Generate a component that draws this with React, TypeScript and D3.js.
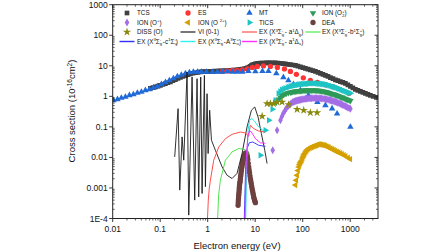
import React from 'react';
import * as d3 from 'd3';

const W = 448, H = 252;
const LEFT = 112.7, RIGHT = 378, TOP = 4.7, BOTTOM = 218.5;

const xTickValues = [0.01, 0.1, 1, 10, 100, 1000];
const xTickLabels = ['0.01', '0.1', '1', '10', '100', '1000'];
const yTickValues = [1e-4, 1e-3, 0.01, 0.1, 1, 10, 100, 1000];
const yTickLabels = ['1E-4', '0.001', '0.01', '0.1', '1', '10', '100', '1000'];

type P = [number, number];

const tcs: P[] = [
  [0.0622, 1.83], [0.0702, 1.93], [0.0792, 2.04], [0.0895, 2.16], [0.101, 2.29], [0.114, 2.44], [0.1287, 2.6],
  [0.145, 2.78], [0.164, 2.98], [0.185, 3.25], [0.209, 3.54], [0.236, 3.86], [0.266, 4.18], [0.3, 4.48],
  [0.339, 4.78], [0.383, 5.1], [0.432, 5.44], [0.49, 5.7], [0.551, 5.91], [0.623, 6.12], [0.702, 6.32],
  [0.79, 6.4], [0.895, 6.46], [1.01, 6.5], [1.14, 6.56], [1.29, 6.6], [1.45, 6.66], [1.64, 6.74],
  [1.85, 6.81], [2.09, 6.86], [2.36, 6.92], [2.66, 7.0], [3.01, 7.07], [3.4, 7.18], [3.83, 7.29],
  [4.32, 7.45], [4.88, 7.63], [5.4, 7.8], [5.93, 7.98], [6.4, 8.2], [6.85, 8.53], [7.4, 9.0],
  [7.92, 9.55], [8.3, 10.1], [8.73, 10.7], [9.4, 11.1], [10.1, 11.5], [10.9, 11.8], [11.7, 12.0],
  [12.9, 12.2], [14.2, 12.3], [15.6, 12.35], [17.2, 12.4], [19, 12.45], [20.9, 12.5], [23.6, 12.45],
  [26.6, 12.4], [30, 12.25], [33.9, 12.1], [38.3, 11.8], [43.2, 11.5], [48.8, 11.2], [55.1, 10.9],
  [62.2, 10.6], [70.2, 10.3], [79.2, 9.8], [89.4, 9.27], [101, 8.75], [114, 8.22], [129, 7.8],
  [145, 7.35], [164, 6.95], [185, 6.56], [209, 6.1], [236, 5.65], [267, 5.25], [301, 4.86], [340, 4.48],
  [383, 4.11], [433, 3.78], [488, 3.46], [551, 3.25], [622, 3.05], [702, 2.86], [792, 2.66], [895, 2.38],
  [1010, 2.12], [1140, 1.9], [1287, 1.69], [1453, 1.57], [1640, 1.46], [1851, 1.35], [2089, 1.25],
  [2358, 1.16], [2663, 1.08], [3050, 1.0], [3562, 0.93],
];

const es: P[] = [
  [2.04, 6.56], [2.6, 6.81], [3.31, 7.07], [4.22, 7.07], [5.38, 7.35], [6.85, 7.92], [8.73, 8.87],
  [11.1, 9.55], [14.9, 9.93], [20.9, 9.55], [29.3, 8.87], [41.2, 7.92], [55.1, 6.56], [73.6, 5.24],
  [103, 4.03], [145, 3.33], [204, 2.87], [301, 2.38], [443, 2.04], [952, 1.25],
];

const mt: P[] = [
  [0.0104, 0.74], [0.0126, 0.8], [0.0152, 0.89], [0.0185, 0.96], [0.0225, 1.08], [0.0273, 1.16],
  [0.0331, 1.3], [0.0402, 1.4], [0.0488, 1.57], [0.0593, 1.69], [0.0719, 1.9], [0.0873, 2.12],
  [0.106, 2.47], [0.129, 2.87], [0.156, 3.33], [0.19, 3.87], [0.23, 4.5], [0.279, 5.04], [0.34, 5.65],
  [0.412, 6.09], [0.5, 6.32], [0.607, 6.32], [0.737, 6.32], [0.939, 6.32], [1.26, 6.32], [1.6, 6.32],
  [2.04, 6.32], [2.6, 6.56], [3.31, 6.32], [4.22, 6.32], [5.38, 6.32], [7.19, 6.7], [10.1, 6.56],
  [14.2, 6.7], [19, 6.7], [27.9, 5.65], [39.2, 4.2], [50, 3.3], [64, 2.47], [89.4, 1.57], [132, 1.08],
  [204, 0.65], [301, 0.508], [416, 0.397], [530, 0.272], [1010, 0.099],
];

const ionO2p: P[] = [
  [27.9, 0.637], [31, 0.8], [34, 0.93], [36.5, 1.03], [39.2, 1.12], [42.2, 1.19], [45.4, 1.25], [50, 1.3],
  [55.1, 1.35], [58.5, 1.38], [62, 1.41], [66, 1.44], [70.2, 1.46], [74.5, 1.48], [79, 1.49], [84, 1.5],
  [89.4, 1.51], [95, 1.53], [101, 1.55], [107, 1.56], [114, 1.57], [121, 1.57], [128, 1.57], [136, 1.57],
  [145, 1.57], [154, 1.58], [164, 1.58], [174, 1.58], [185, 1.57], [197, 1.56], [209, 1.55], [222, 1.53],
  [236, 1.51], [251, 1.49], [267, 1.46], [284, 1.43], [301, 1.4], [320, 1.37], [340, 1.33], [361, 1.29],
  [383, 1.25], [407, 1.21], [433, 1.18], [460, 1.15], [488, 1.12], [518, 1.08], [551, 1.04], [585, 1.0],
  [622, 0.963], [660, 0.93], [700, 0.9], [745, 0.865], [792, 0.829], [840, 0.8], [890, 0.77], [950, 0.74],
  [1010, 0.713],
];

const ionOp: P[] = [
  [23.4, 0.0172], [28.9, 0.0774], [34, 0.164], [36.5, 0.22], [39.2, 0.278], [42.2, 0.34], [45.4, 0.405],
  [49, 0.47], [52.5, 0.527], [56.5, 0.585], [60.7, 0.637], [64, 0.66], [67, 0.68], [70.2, 0.7], [73.6, 0.713],
  [77, 0.73], [81, 0.745], [85, 0.757], [89.4, 0.769], [95, 0.785], [101, 0.8], [107, 0.815], [114, 0.829],
  [121, 0.84], [128, 0.85], [136, 0.855], [145, 0.86], [154, 0.865], [164, 0.87], [174, 0.872], [185, 0.873],
  [197, 0.872], [209, 0.87], [222, 0.865], [236, 0.86], [251, 0.85], [267, 0.84], [284, 0.825], [301, 0.81],
  [320, 0.795], [340, 0.78], [361, 0.76], [383, 0.74], [407, 0.72], [433, 0.7], [460, 0.68], [488, 0.661],
  [518, 0.64], [551, 0.615], [585, 0.59], [622, 0.569], [660, 0.545], [700, 0.52], [745, 0.495], [792, 0.471],
  [840, 0.45], [890, 0.43], [950, 0.41], [1010, 0.391],
];

const ionO2plus: P[] = [
  [70.2, 0.00124], [73, 0.0018], [76.2, 0.0026], [79.5, 0.0037], [82.8, 0.0049], [85.5, 0.0057], [88, 0.0066],
  [92, 0.0074], [95.9, 0.0081], [99.5, 0.0095], [103, 0.011], [106.5, 0.0122], [110, 0.0134], [115, 0.015],
  [120, 0.0165], [126, 0.018], [133, 0.0195], [141, 0.0205], [150, 0.0215], [160, 0.0225], [170, 0.0233],
  [181, 0.0242], [192, 0.025], [205, 0.026], [218, 0.0271], [233, 0.0265], [248, 0.026], [264, 0.0255],
  [280, 0.025], [298, 0.024], [316, 0.023], [336, 0.022], [356, 0.021], [388, 0.0197], [420, 0.0185],
  [452, 0.0174], [486, 0.0163], [527, 0.0154], [570, 0.0145], [620, 0.0136], [670, 0.0128], [733, 0.0119],
  [800, 0.011], [900, 0.0098], [1000, 0.0088],
];

const tics: P[] = [
  [12.9, 0.0118], [16.4, 0.0774], [19.4, 0.164], [23, 0.376], [26.6, 0.74], [30.8, 1.25], [33.5, 1.45],
  [36.5, 1.63], [39.5, 1.74], [43.2, 1.83], [48, 1.95], [51.5, 2.03], [55.1, 2.12], [58.5, 2.16], [62, 2.2],
  [66, 2.25], [70.2, 2.29], [74.5, 2.33], [79, 2.38], [84, 2.43], [89.4, 2.47], [95, 2.5], [101, 2.52],
  [107, 2.54], [114, 2.56], [121, 2.58], [128, 2.6], [136, 2.63], [145, 2.66], [154, 2.66], [164, 2.66],
  [174, 2.66], [185, 2.66], [197, 2.64], [209, 2.62], [222, 2.59], [236, 2.56], [251, 2.54], [267, 2.52],
  [284, 2.5], [301, 2.47], [320, 2.41], [340, 2.35], [361, 2.28], [383, 2.2], [407, 2.14], [433, 2.08],
  [460, 2.03], [488, 1.97], [518, 1.9], [551, 1.83], [585, 1.76], [622, 1.69], [660, 1.63], [700, 1.57],
  [745, 1.51], [792, 1.46], [840, 1.4], [890, 1.35], [950, 1.3], [1010, 1.25],
];

const dea: P[] = [
  [4.36, 0.00027], [4.39, 0.00033], [4.42, 0.0004], [4.46, 0.00048], [4.5, 0.00058], [4.54, 0.00068],
  [4.58, 0.0008], [4.62, 0.00095], [4.65, 0.0011], [4.7, 0.0013], [4.76, 0.0015], [4.82, 0.0017],
  [4.88, 0.002], [4.94, 0.0024], [5.0, 0.0028], [5.06, 0.0033], [5.12, 0.0038], [5.2, 0.0045],
  [5.3, 0.0052], [5.38, 0.0061], [5.46, 0.0071], [5.58, 0.0083], [5.7, 0.0095], [5.82, 0.0107],
  [5.93, 0.0118], [6.06, 0.0127], [6.2, 0.0135], [6.3, 0.0138], [6.42, 0.014], [6.58, 0.0132],
  [6.74, 0.0118], [6.87, 0.0101], [7.0, 0.0085], [7.15, 0.0064], [7.31, 0.0049], [7.45, 0.0039],
  [7.6, 0.0032], [7.76, 0.0025], [7.92, 0.002], [8.08, 0.0017], [8.25, 0.0014], [8.42, 0.00115],
  [8.59, 0.00096], [8.77, 0.00082], [8.95, 0.0007], [9.12, 0.0006], [9.3, 0.00051], [9.5, 0.00045],
  [9.7, 0.0004], [9.9, 0.00036], [10.1, 0.00033],
];

const dissO: P[] = [
  [14.0, 0.222], [17.8, 0.577], [20.9, 0.577], [24.5, 0.577], [28.9, 0.651], [36.8, 0.651], [50.7, 0.536],
  [76.2, 0.376], [105, 0.349], [145, 0.293], [201, 0.293],
];

const vi01: P[] = [
  [0.202, 0.0104], [0.238, 0.395], [0.258, 0.00085], [0.289, 0.047], [0.313, 0.0081], [0.368, 6.24],
  [0.399, 0.000129], [0.469, 4.28], [0.533, 0.0004], [0.597, 3.78], [0.647, 0.00051], [0.713, 4.28],
  [0.762, 0.00066], [0.852, 4.86], [0.895, 0.0011], [0.97, 1.22], [1.02, 0.0134], [1.1, 0.35],
  [1.2, 0.0365], [1.45, 0.0172], [2.01, 0.0049], [2.56, 0.0026], [3.26, 0.00204], [4.15, 0.003],
  [5.29, 0.0134], [6.74, 0.0998], [8.32, 0.35], [9.78, 0.448], [11.5, 0.211], [13.5, 0.06], [15.9, 0.0172],
  [17.8, 0.0063],
];

const exA1: P[] = [
  [0.99, 1e-4], [1.03, 0.0004], [1.08, 0.001], [1.14, 0.0018], [1.34, 0.0081], [1.71, 0.022], [2.36, 0.041],
  [3.26, 0.057], [4.88, 0.068], [6.2, 0.063], [7.3, 0.049], [7.6, 0.08], [7.9, 0.113], [9.3, 0.088],
  [11.8, 0.073], [15.9, 0.068],
];

const exB1: P[] = [
  [1.62, 1e-4], [1.7, 0.0006], [1.85, 0.0018], [2.36, 0.0081], [3.26, 0.0152], [4.5, 0.0195], [6.2, 0.018],
  [7.3, 0.0134], [7.6, 0.012],
];

const exC1: P[] = [
  [5.9, 1e-4], [6.3, 0.005], [6.8, 0.02], [7.5, 0.03], [8.9, 0.032], [11.8, 0.025], [16.4, 0.023],
];

const exA3: P[] = [
  [6.3, 1e-4], [6.7, 0.01], [7.1, 0.08], [7.6, 0.16], [8.4, 0.19], [9.5, 0.16], [11.8, 0.1], [14, 0.08],
  [16.4, 0.072],
];

const exM: P[] = [
  [6.1, 1e-4], [6.5, 0.01], [7.0, 0.05], [7.6, 0.075], [8.3, 0.068], [10.1, 0.041], [12.9, 0.03], [16.4, 0.029],
];

type Part = [string, 'n' | 'u' | 'd' | 'ud'];

const FONT = '"Liberation Sans", Arial, Helvetica, sans-serif';

function Rich({ x, y, parts, fs }: { x: number; y: number; parts: Part[]; fs: number }) {
  let cur = 0;
  const out: any[] = [];
  parts.forEach(([t, k], i) => {
    let target = 0;
    let size = fs;
    let dx = 0;
    if (k === 'u') { target = -fs * 0.4; size = fs * 0.68; }
    if (k === 'd') { target = fs * 0.25; size = fs * 0.68; }
    if (k === 'ud') { target = -fs * 0.4; size = fs * 0.68; dx = -fs * 0.38; }
    out.push(
      <tspan key={i} dy={target - cur} dx={dx} fontSize={size}>{t}</tspan>
    );
    cur = target;
  });
  return <text x={x} y={y} fontSize={fs} fill="#111" fontFamily={FONT}>{out}</text>;
}

export default function App() {
  const x = d3.scaleLog().domain([0.01, 3850]).range([LEFT, RIGHT]);
  const y = d3.scaleLog().domain([1e-4, 1000]).range([BOTTOM, TOP]);

  const sym = (type: any, size: number) => d3.symbol().type(type).size(size)() as string;
  const sq = sym(d3.symbolSquare, 22);
  const circ = sym(d3.symbolCircle, 22);
  const tri = sym(d3.symbolTriangle, 18);
  const dia = sym(d3.symbolDiamond, 18);
  const star = sym(d3.symbolStar, 22);

  const line = d3.line<P>().x(d => x(d[0])).y(d => y(d[1]));

  const scatter = (data: P[], path: string, color: string, rot = 0, key = '') =>
    data.map((d, i) => (
      <path key={key + i} d={path} fill={color}
        transform={`translate(${x(d[0])},${y(d[1])})${rot ? ` rotate(${rot})` : ''}`} />
    ));

  const C = {
    tcs: '#404040', es: '#f33', mt: '#1f6ad8', ionO2p: '#2e9a58', ionOp: '#a46ee6', ionO2plus: '#d4a000',
    tics: '#1ec4c4', dea: '#6e4040', diss: '#8a8a10', vi: '#1a1a1a', exA1: '#ff3a3a', exB1: '#3ee03e',
    exC1: '#2a2aff', exA3: '#10e0e0', exM: '#ff20ff',
  };

  const xMinor: number[] = [];
  for (let e = -2; e <= 3; e++) for (let k = 2; k <= 9; k++) { const v = k * Math.pow(10, e); if (v <= 3850) xMinor.push(v); }
  const yMinor: number[] = [];
  for (let e = -4; e <= 2; e++) for (let k = 2; k <= 9; k++) yMinor.push(k * Math.pow(10, e));

  const fsL = 6.3;
  const rows = [13, 22.5, 32, 41.5];
  const cols = [127, 188, 249.5, 313];
  const tx = [137, 198, 259, 322];

  const legend: { kind: 'm' | 'l'; col: number; row: number; path?: string; rot?: number; color: string; parts: Part[]; w?: number }[] = [
    { kind: 'm', col: 0, row: 0, path: sq, color: C.tcs, parts: [['TCS', 'n']] },
    { kind: 'm', col: 1, row: 0, path: circ, color: C.es, parts: [['ES', 'n']] },
    { kind: 'm', col: 2, row: 0, path: tri, color: C.mt, parts: [['MT', 'n']] },
    { kind: 'm', col: 3, row: 0, path: tri, rot: 180, color: C.ionO2p, parts: [['ION (O', 'n'], ['2', 'd'], ['+', 'ud'], [')', 'n']] },
    { kind: 'm', col: 0, row: 1, path: dia, color: C.ionOp, parts: [['ION (O', 'n'], ['+', 'u'], [')', 'n']] },
    { kind: 'm', col: 1, row: 1, path: tri, rot: -90, color: C.ionO2plus, parts: [['ION (O ', 'n'], ['2+', 'u'], [')', 'n']] },
    { kind: 'm', col: 2, row: 1, path: tri, rot: 90, color: C.tics, parts: [['TICS', 'n']] },
    { kind: 'm', col: 3, row: 1, path: circ, color: C.dea, parts: [['DEA', 'n']] },
    { kind: 'm', col: 0, row: 2, path: star, color: C.diss, parts: [['DISS (O)', 'n']] },
    { kind: 'l', col: 1, row: 2, color: '#555', w: 1.6, parts: [['VI (0-1)', 'n']] },
    { kind: 'l', col: 2, row: 2, color: '#ff6a6a', w: 1.4, parts: [['EX (X', 'n'], ['3', 'u'], ['Σ', 'n'], ['g', 'd'], ['-', 'ud'], [' - a', 'n'], ['1', 'u'], ['Δ', 'n'], ['g', 'd'], [')', 'n']] },
    { kind: 'l', col: 3, row: 2, color: '#66ee66', w: 1.4, parts: [['EX (X', 'n'], ['3', 'u'], ['Σ', 'n'], ['g', 'd'], ['-', 'ud'], [' -b', 'n'], ['1', 'u'], ['Σ', 'n'], ['g', 'd'], ['+', 'ud'], [')', 'n']] },
    { kind: 'l', col: 0, row: 3, color: '#3030ff', w: 1.4, parts: [['EX (X', 'n'], ['3', 'u'], ['Σ', 'n'], ['g', 'd'], ['-', 'ud'], [' -c', 'n'], ['1', 'u'], ['Σ', 'n'], ['u', 'd'], ['-', 'ud'], [')', 'n']] },
    { kind: 'l', col: 1, row: 3, color: '#30f0f0', w: 1.4, parts: [['EX (X', 'n'], ['3', 'u'], ['Σ', 'n'], ['g', 'd'], ['-', 'ud'], [' -A', 'n'], ['3', 'u'], ['Σ', 'n'], ['u', 'd'], ['+', 'ud'], [')', 'n']] },
    { kind: 'l', col: 2, row: 3, color: '#ff30ff', w: 1.4, parts: [['EX (X', 'n'], ['3', 'u'], ['Σ', 'n'], ['g', 'd'], ['-', 'ud'], [' - a', 'n'], ['1', 'u'], ['Δ', 'n'], ['u', 'd'], [')', 'n']] },
  ];

  return (
    <svg width={W} height={H} style={{ position: 'absolute', left: 0, top: 0, background: '#fff' }} fontFamily={FONT}>
      <defs>
        <clipPath id="plot">
          <rect x={LEFT} y={TOP} width={RIGHT - LEFT} height={BOTTOM - TOP} />
        </clipPath>
      </defs>
      <rect x={0} y={0} width={W} height={H} fill="#fff" />

      <g clipPath="url(#plot)">
        {scatter(tcs, sq, C.tcs, 0, 'tcs')}
        {scatter(es, circ, C.es, 0, 'es')}
        {scatter(mt, tri, C.mt, 0, 'mt')}
        {scatter(ionO2p, tri, C.ionO2p, 180, 'io2')}
        {scatter(ionOp, dia, C.ionOp, 0, 'iop')}
        {scatter(ionO2plus, tri, C.ionO2plus, -90, 'io2p')}
        {scatter(tics, tri, C.tics, 90, 'tics')}
        {scatter(dea, circ, C.dea, 0, 'dea')}
        {scatter(dissO, star, C.diss, 0, 'diss')}
        <path d={line(vi01) as string} fill="none" stroke={C.vi} strokeWidth={0.9} />
        <path d={line(exA1) as string} fill="none" stroke={C.exA1} strokeWidth={0.9} />
        <path d={line(exB1) as string} fill="none" stroke={C.exB1} strokeWidth={0.9} />
        <path d={line(exC1) as string} fill="none" stroke={C.exC1} strokeWidth={0.9} />
        <path d={line(exA3) as string} fill="none" stroke={C.exA3} strokeWidth={0.9} />
        <path d={line(exM) as string} fill="none" stroke={C.exM} strokeWidth={0.9} />
      </g>

      <rect x={LEFT} y={TOP} width={RIGHT - LEFT} height={BOTTOM - TOP} fill="none" stroke="#222" strokeWidth={1} />

      {xTickValues.map((v, i) => (
        <g key={'xt' + i}>
          <line x1={x(v)} x2={x(v)} y1={BOTTOM} y2={BOTTOM + 3.5} stroke="#222" strokeWidth={0.9} />
          <line x1={x(v)} x2={x(v)} y1={TOP} y2={TOP + 3.5} stroke="#222" strokeWidth={0.9} />
          <text x={x(v)} y={BOTTOM + 13} fontSize={8.5} textAnchor="middle" fill="#111">{xTickLabels[i]}</text>
        </g>
      ))}
      {xMinor.map((v, i) => (
        <g key={'xm' + i}>
          <line x1={x(v)} x2={x(v)} y1={BOTTOM} y2={BOTTOM + 2} stroke="#222" strokeWidth={0.7} />
          <line x1={x(v)} x2={x(v)} y1={TOP} y2={TOP + 2} stroke="#222" strokeWidth={0.7} />
        </g>
      ))}
      {yTickValues.map((v, i) => (
        <g key={'yt' + i}>
          <line x1={LEFT - 3.5} x2={LEFT} y1={y(v)} y2={y(v)} stroke="#222" strokeWidth={0.9} />
          <line x1={RIGHT - 3.5} x2={RIGHT} y1={y(v)} y2={y(v)} stroke="#222" strokeWidth={0.9} />
          <text x={LEFT - 5} y={y(v) + 3} fontSize={8.5} textAnchor="end" fill="#111">{yTickLabels[i]}</text>
        </g>
      ))}
      {yMinor.map((v, i) => (
        <g key={'ym' + i}>
          <line x1={LEFT} x2={LEFT + 2} y1={y(v)} y2={y(v)} stroke="#222" strokeWidth={0.7} />
          <line x1={RIGHT - 2} x2={RIGHT} y1={y(v)} y2={y(v)} stroke="#222" strokeWidth={0.7} />
        </g>
      ))}

      <text x={237} y={248.5} fontSize={9.5} textAnchor="middle" fill="#111">Electron energy (eV)</text>
      <text transform={`translate(75,111) rotate(-90)`} fontSize={9.5} textAnchor="middle" fill="#111">
        Cross section (10<tspan dy={-3.5} fontSize={6.5}>-16</tspan><tspan dy={3.5}>cm</tspan><tspan dy={-3.5} fontSize={6.5}>2</tspan><tspan dy={3.5}>)</tspan>
      </text>

      {legend.map((l, i) => {
        const cx = cols[l.col], cy = rows[l.row];
        return (
          <g key={'lg' + i}>
            {l.kind === 'm' ? (
              <path d={l.path} fill={l.color} transform={`translate(${cx},${cy})${l.rot ? ` rotate(${l.rot})` : ''}`} />
            ) : (
              <line x1={cx - 7.5} x2={cx + 7.5} y1={cy} y2={cy} stroke={l.color} strokeWidth={l.w} />
            )}
            <Rich x={tx[l.col]} y={cy + 2.2} parts={l.parts} fs={fsL} />
          </g>
        );
      })}
    </svg>
  );
}
